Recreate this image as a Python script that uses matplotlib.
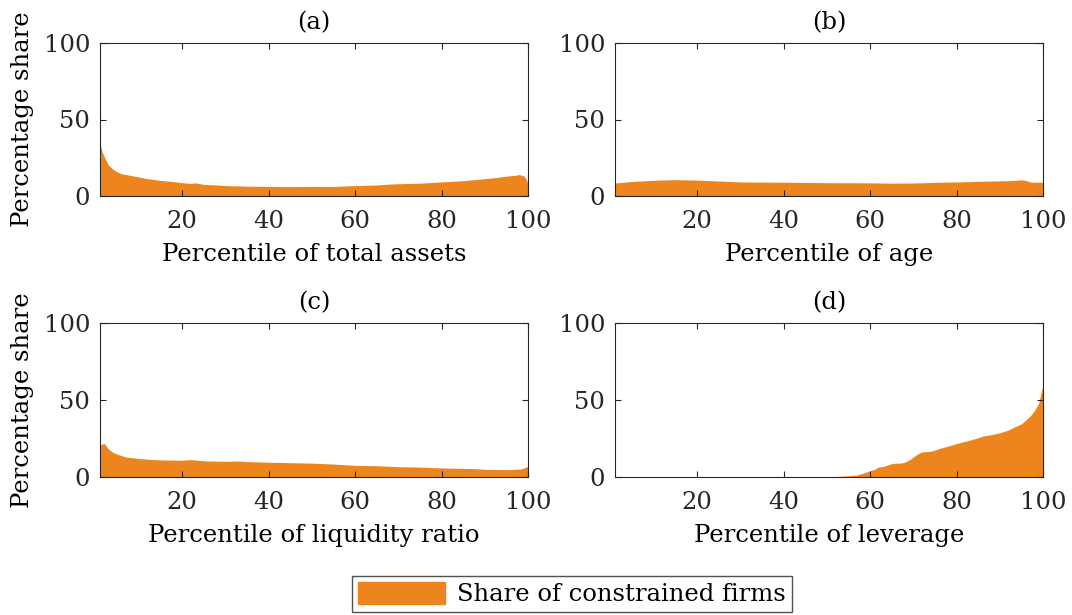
import matplotlib
matplotlib.use("Agg")
import matplotlib.pyplot as plt
from matplotlib.patches import Patch

plt.rcParams['font.family'] = ['DejaVu Serif']

# percentile positions and share of constrained firms (%)
x_a = [1, 1.5, 2, 3, 4, 5, 6, 8, 10, 12, 15, 18, 20, 22, 23, 25, 28, 30, 33, 35, 40, 45, 50, 55, 58, 60, 65, 68, 70, 75, 80, 85, 90, 93, 95, 97, 98, 99, 99.5, 100]
y_a = [34, 29, 25.5, 20, 17.5, 15.7, 14.5, 13.5, 12.4, 11.3, 10.2, 9.4, 8.7, 8.2, 8.6, 7.6, 7.2, 6.8, 6.6, 6.4, 6.3, 6.1, 6.3, 6.2, 6.6, 6.8, 7.2, 7.8, 8.0, 8.4, 9.2, 10.0, 11.3, 12.2, 13.0, 13.5, 14.0, 13.2, 11.5, 8.0]

x_b = [1, 5, 10, 15, 20, 25, 30, 35, 40, 50, 60, 65, 70, 75, 80, 85, 90, 93, 95, 96, 97, 98, 100]
y_b = [8.5, 9.5, 10.3, 10.7, 10.4, 9.8, 9.2, 9.1, 9.0, 8.7, 8.6, 8.4, 8.5, 8.9, 9.2, 9.6, 9.9, 10.1, 10.6, 10.2, 9.2, 9.0, 9.0]

x_c = [1, 2, 3, 4, 5, 7, 10, 12, 14, 17, 20, 22, 25, 30, 33, 35, 40, 45, 50, 55, 60, 65, 70, 75, 80, 85, 88, 90, 95, 98, 99, 100]
y_c = [21, 21.7, 18.0, 16.0, 14.8, 13.0, 12.0, 11.6, 11.2, 11.0, 10.9, 11.3, 10.5, 10.2, 10.4, 10.0, 9.6, 9.3, 9.0, 8.4, 7.6, 7.3, 6.7, 6.4, 5.9, 5.6, 5.4, 5.0, 4.8, 5.1, 5.8, 7.0]

x_d = [1, 50, 52, 55, 57, 58, 60, 61, 62, 63, 65, 66, 67, 68, 69, 70, 71, 72, 74, 75, 76, 78, 80, 81, 83, 85, 86, 88, 90, 92, 93, 95, 96, 97, 98, 99, 100]
y_d = [0, 0, 0.3, 0.8, 1.3, 2.2, 4.0, 5.0, 6.5, 6.8, 8.7, 9.0, 9.0, 9.6, 11.0, 13.0, 15.0, 16.3, 16.7, 17.5, 18.5, 20.0, 21.7, 22.5, 23.9, 25.5, 26.5, 27.5, 28.7, 30.5, 32.0, 34.5, 37.0, 39.5, 43.0, 48.0, 60.0]

panels = [
    ("(a)", "Percentile of total assets", x_a, y_a),
    ("(b)", "Percentile of age", x_b, y_b),
    ("(c)", "Percentile of liquidity ratio", x_c, y_c),
    ("(d)", "Percentile of leverage", x_d, y_d),
]

orange = '#ED851E'
fs = 17.5

fig = plt.figure(figsize=(10.72, 6.15), dpi=100)
W, H = 1072, 615
boxes = [(100, 43, 528, 196), (615, 43, 1043, 196),
         (100, 323, 528, 477), (615, 323, 1043, 477)]

for i, (ttl, xl, xs, ys) in enumerate(panels):
    l, t, r, b = boxes[i]
    ax = fig.add_axes([l / W, 1 - b / H, (r - l) / W, (b - t) / H])
    ax.fill_between(xs, 0, ys, color=orange, linewidth=0)
    ax.set_xlim(1, 100)
    ax.set_ylim(0, 100)
    ax.set_xticks([20, 40, 60, 80, 100])
    ax.set_yticks([0, 50, 100])
    ax.tick_params(direction='in', top=True, right=True, length=4,
                   color='#262626', labelsize=fs, pad=7, labelcolor='#262626')
    ax.tick_params(axis='x', pad=10)
    for s in ax.spines.values():
        s.set_color('#262626')
        s.set_linewidth(0.8)
    ax.set_title(ttl, fontsize=fs, pad=10)
    ax.set_xlabel(xl, fontsize=fs, labelpad=7)
    if i % 2 == 0:
        ax.set_ylabel("Percentage share", fontsize=fs, labelpad=7)

fig.legend(handles=[Patch(color=orange, label="Share of constrained firms")],
           loc='center', bbox_to_anchor=(572 / W, 1 - 594 / H),
           fontsize=fs, frameon=True, fancybox=False, edgecolor='#262626',
           handlelength=3.6, handleheight=1.0, borderpad=0.25, handletextpad=0.5)

fig.savefig("out.png", dpi=100)
